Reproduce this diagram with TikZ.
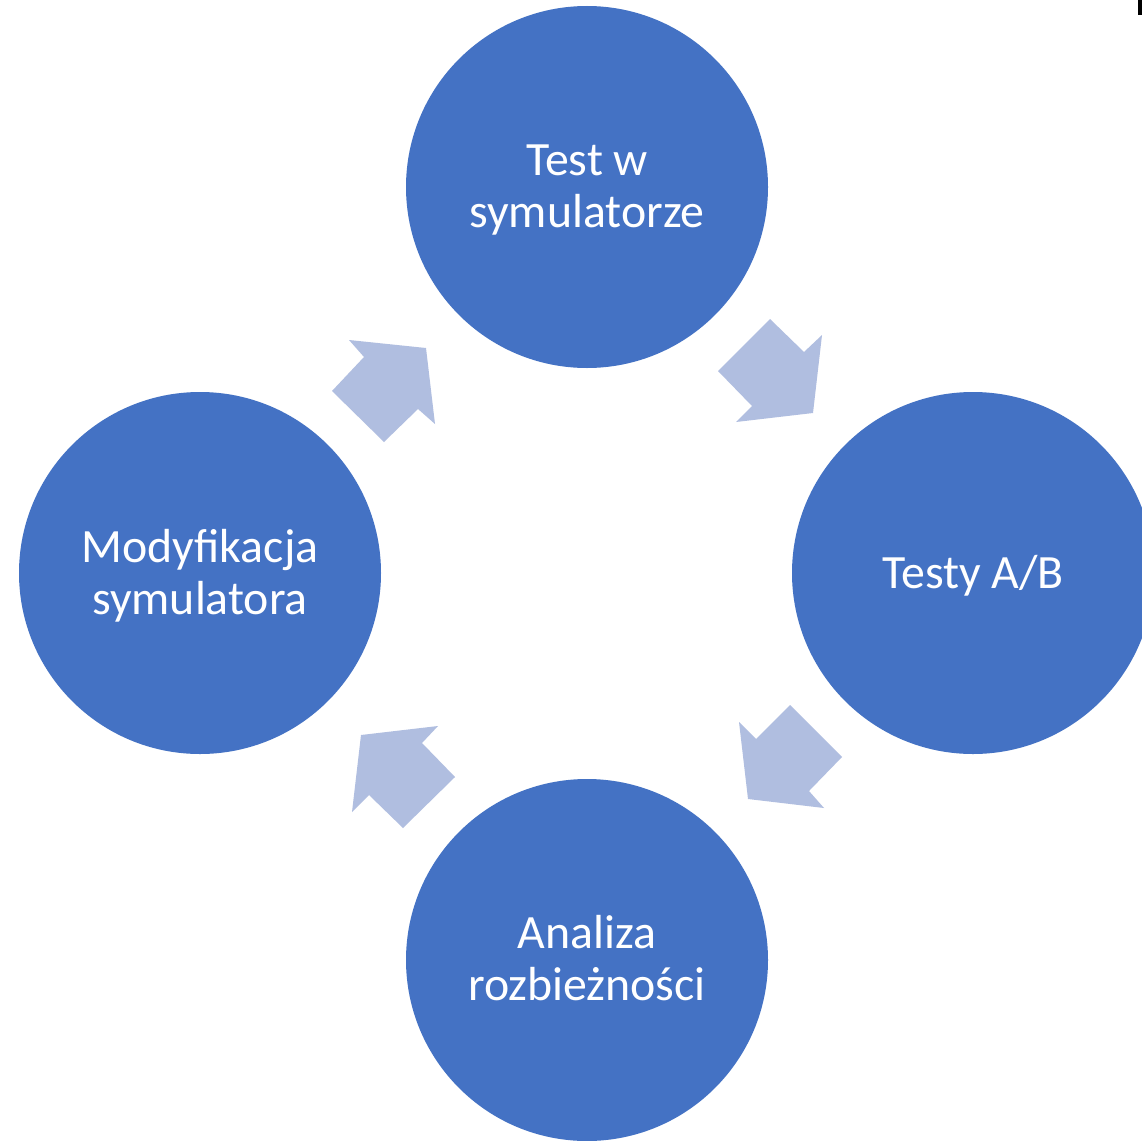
\documentclass[tikz,border=0pt]{standalone}
\usepackage{fontspec}
\setmainfont{Carlito}
\definecolor{circblue}{HTML}{4472C4}
\definecolor{arrblue}{HTML}{B0BEE0}
\begin{document}
\begin{tikzpicture}[x=1pt,y=-1pt,
  stage/.style={circle,fill=circblue,minimum size=362pt,inner sep=0pt},
  stagetext/.style={text=white,align=center,font=\fontsize{47.8}{52}\selectfont},
  blockarrow/.style={fill=arrblue,draw=none}]
\useasboundingbox (0,0) rectangle (1142,1140);
\clip (0,0) rectangle (1142,1140);
\fill[white] (0,0) rectangle (1142,1140);
\node[stage] (top) at (587,187) {};
\node[stage] (right) at (973,573) {};
\node[stage] (bottom) at (587,960) {};
\node[stage] (left) at (200,573) {};
\node[stagetext] (toptext) at (587,190) {Test w\\symulatorze};
\node[stagetext] (righttext) at (973,576) {Testy A/B};
\node[stagetext] (bottomtext) at (587,958) {Analiza\\rozbieżności};
\node[stagetext] (lefttext) at (200,576) {Modyfikacja\\symulatora};
% block arrows
\fill[blockarrow] (770,319) -- (804,352) -- (822,335) -- (813,413) -- (736,422) -- (752,406) -- (718,371) -- cycle;
\fill[blockarrow] (790,705) -- (842,757) -- (809,791) -- (824,808) -- (748,799) -- (739,722) -- (756,739) -- cycle;
\fill[blockarrow] (455,777) -- (403,828) -- (369,795) -- (352,812) -- (361,735) -- (438,726) -- (422,743) -- cycle;
\fill[blockarrow] (384,442) -- (332,391) -- (364,357) -- (349,340) -- (426,348) -- (435,424) -- (418,409) -- cycle;
\fill[black] (1138,0) rectangle (1142,15);
\end{tikzpicture}
\end{document}
